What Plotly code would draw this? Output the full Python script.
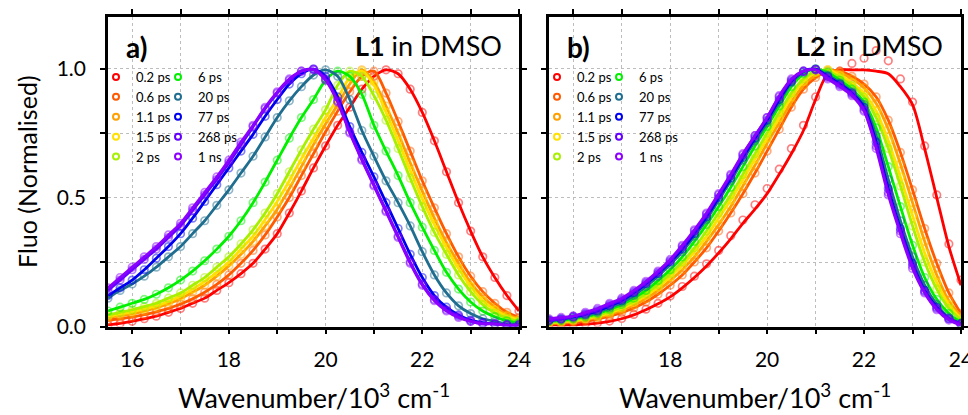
import plotly.graph_objects as go

# ---------------- data ----------------
wavenumber = [15.5, 15.75, 16.0, 16.25, 16.5, 16.75, 17.0, 17.25, 17.5, 17.75,
              18.0, 18.25, 18.5, 18.75, 19.0, 19.25, 19.5, 19.75, 20.0, 20.25,
              20.5, 20.75, 21.0, 21.25, 21.5, 21.75, 22.0, 22.25, 22.5, 22.75,
              23.0, 23.25, 23.5, 23.75, 24.0]

delays = ["0.2 ps", "0.6 ps", "1.1 ps", "1.5 ps", "2 ps",
          "6 ps", "20 ps", "77 ps", "268 ps", "1 ns"]
colors = ["#ff0000", "#ff5a00", "#ffa000", "#ffe000", "#a6f000",
          "#00f000", "#1f6e90", "#0000f0", "#6400ff", "#8c00ff"]

# Panel a) L1 in DMSO
a_02 = [0.006,0.012,0.02,0.03,0.04,0.055,0.07,0.09,0.11,0.14,0.17,0.205,0.245,0.30,0.36,0.44,0.525,0.615,0.70,0.78,0.85,0.92,0.97,0.995,0.98,0.92,0.83,0.72,0.60,0.48,0.37,0.27,0.19,0.12,0.06]
a_06 = [0.025,0.03,0.037,0.046,0.057,0.07,0.087,0.108,0.133,0.163,0.20,0.245,0.295,0.355,0.425,0.50,0.585,0.67,0.755,0.835,0.91,0.97,0.99,0.905,0.795,0.68,0.565,0.46,0.36,0.27,0.195,0.135,0.09,0.055,0.035]
a_11 = [0.035,0.042,0.05,0.06,0.072,0.088,0.108,0.133,0.16,0.195,0.235,0.28,0.33,0.39,0.455,0.535,0.62,0.705,0.785,0.86,0.94,0.995,0.95,0.855,0.75,0.635,0.525,0.42,0.325,0.245,0.17,0.115,0.075,0.045,0.03]
a_15 = [0.04,0.048,0.057,0.068,0.08,0.097,0.118,0.145,0.175,0.21,0.25,0.30,0.35,0.415,0.485,0.565,0.65,0.73,0.81,0.885,0.965,0.99,0.935,0.83,0.72,0.605,0.495,0.395,0.305,0.225,0.155,0.10,0.065,0.04,0.025]
a_2 = [0.045,0.055,0.065,0.077,0.09,0.11,0.13,0.16,0.19,0.23,0.27,0.32,0.375,0.44,0.515,0.60,0.685,0.765,0.84,0.935,0.99,0.97,0.895,0.80,0.69,0.575,0.465,0.365,0.28,0.20,0.135,0.085,0.052,0.032,0.02]
a_6 = [0.06,0.075,0.09,0.105,0.125,0.15,0.18,0.215,0.255,0.30,0.35,0.41,0.48,0.56,0.645,0.73,0.81,0.88,0.955,0.99,0.97,0.90,0.78,0.68,0.585,0.48,0.385,0.295,0.21,0.145,0.095,0.06,0.038,0.022,0.015]
a_20 = [0.11,0.14,0.165,0.195,0.23,0.27,0.31,0.36,0.41,0.47,0.53,0.595,0.66,0.735,0.81,0.875,0.93,0.975,0.995,0.97,0.88,0.76,0.66,0.565,0.48,0.39,0.29,0.20,0.13,0.08,0.05,0.03,0.02,0.01,0.01]
a_77 = [0.12,0.15,0.18,0.22,0.265,0.31,0.36,0.42,0.485,0.55,0.615,0.68,0.745,0.815,0.88,0.94,0.98,0.998,0.97,0.89,0.775,0.675,0.58,0.48,0.38,0.28,0.19,0.12,0.075,0.045,0.025,0.015,0.01,0.005,0.005]
a_268 = [0.14,0.18,0.22,0.26,0.30,0.345,0.39,0.45,0.51,0.57,0.635,0.705,0.775,0.845,0.905,0.955,0.99,0.998,0.96,0.875,0.755,0.65,0.55,0.45,0.35,0.25,0.165,0.105,0.065,0.04,0.02,0.012,0.01,0.005,0.005]
a_1ns = [0.15,0.19,0.23,0.27,0.31,0.355,0.40,0.46,0.52,0.58,0.645,0.715,0.78,0.85,0.91,0.96,0.99,0.995,0.955,0.87,0.75,0.645,0.545,0.445,0.345,0.245,0.16,0.10,0.06,0.035,0.02,0.01,0.01,0.005,0.005]

# Panel b) L2 in DMSO
b_02_fit = [0.005,0.005,0.006,0.009,0.013,0.02,0.03,0.045,0.065,0.088,0.115,0.15,0.19,0.235,0.285,0.34,0.40,0.455,0.515,0.59,0.67,0.76,0.88,0.98,0.995,0.995,0.995,0.99,0.98,0.93,0.86,0.69,0.50,0.31,0.16]
b_02 = [0.005,0.005,0.007,0.01,0.014,0.021,0.031,0.047,0.067,0.09,0.118,0.155,0.195,0.243,0.295,0.352,0.413,0.472,0.535,0.61,0.69,0.78,0.89,0.97,0.99,1.02,1.04,1.07,1.03,0.96,0.87,0.70,0.51,0.32,0.18]
b_06 = [0.01,0.012,0.016,0.021,0.029,0.04,0.054,0.072,0.095,0.125,0.16,0.20,0.25,0.305,0.37,0.44,0.515,0.595,0.68,0.765,0.85,0.92,0.965,0.99,0.99,0.97,0.94,0.89,0.80,0.675,0.53,0.38,0.245,0.13,0.05]
b_11 = [0.012,0.015,0.02,0.026,0.035,0.047,0.063,0.083,0.108,0.14,0.178,0.22,0.27,0.33,0.395,0.465,0.545,0.625,0.71,0.79,0.87,0.935,0.975,0.995,0.985,0.96,0.925,0.865,0.765,0.63,0.48,0.33,0.20,0.10,0.04]
b_15 = [0.015,0.018,0.023,0.03,0.04,0.053,0.07,0.092,0.12,0.153,0.193,0.237,0.29,0.35,0.42,0.49,0.57,0.65,0.73,0.81,0.89,0.95,0.985,0.995,0.975,0.945,0.905,0.835,0.72,0.58,0.43,0.285,0.17,0.085,0.03]
b_2 = [0.017,0.02,0.026,0.033,0.043,0.058,0.076,0.10,0.128,0.163,0.205,0.25,0.305,0.37,0.44,0.51,0.59,0.67,0.75,0.83,0.905,0.96,0.99,0.99,0.965,0.935,0.89,0.81,0.69,0.545,0.39,0.25,0.145,0.07,0.025]
b_6 = [0.02,0.024,0.03,0.038,0.05,0.066,0.085,0.11,0.14,0.178,0.22,0.27,0.33,0.395,0.465,0.54,0.62,0.70,0.775,0.855,0.93,0.98,0.998,0.985,0.955,0.92,0.87,0.77,0.62,0.465,0.315,0.19,0.105,0.05,0.015]
b_20 = [0.022,0.027,0.034,0.043,0.055,0.073,0.093,0.12,0.155,0.195,0.24,0.29,0.35,0.415,0.49,0.565,0.645,0.72,0.79,0.87,0.945,0.985,0.998,0.975,0.945,0.91,0.86,0.74,0.57,0.41,0.27,0.16,0.085,0.035,0.012]
b_77 = [0.025,0.03,0.037,0.047,0.06,0.08,0.10,0.13,0.165,0.205,0.25,0.30,0.36,0.425,0.50,0.575,0.655,0.73,0.80,0.88,0.95,0.99,0.998,0.97,0.94,0.905,0.85,0.715,0.535,0.38,0.245,0.14,0.075,0.03,0.01]
b_268 = [0.025,0.03,0.04,0.05,0.065,0.085,0.105,0.135,0.17,0.21,0.255,0.31,0.37,0.435,0.51,0.585,0.665,0.74,0.81,0.89,0.955,0.99,0.995,0.965,0.935,0.90,0.84,0.70,0.52,0.37,0.235,0.135,0.07,0.03,0.01]
b_1ns = [0.03,0.035,0.04,0.055,0.07,0.09,0.11,0.14,0.175,0.215,0.26,0.315,0.375,0.44,0.515,0.59,0.67,0.74,0.81,0.895,0.96,0.99,0.995,0.96,0.93,0.895,0.835,0.69,0.51,0.36,0.225,0.13,0.065,0.025,0.005]

panel_a_data = [a_02, a_06, a_11, a_15, a_2, a_6, a_20, a_77, a_268, a_1ns]
panel_a_fit = panel_a_data
panel_b_data = [b_02, b_06, b_11, b_15, b_2, b_6, b_20, b_77, b_268, b_1ns]
panel_b_fit = [b_02_fit, b_06, b_11, b_15, b_2, b_6, b_20, b_77, b_268, b_1ns]

x_ticks = [16, 17, 18, 19, 20, 21, 22, 23, 24]
x_ticktext = ["16", "", "18", "", "20", "", "22", "", "24"]
y_ticks = [0, 0.25, 0.5, 0.75, 1.0]
y_ticktext = ["0.0", "", "0.5", "", "1.0"]

FONT = "Lato"
W, H = 968, 415


def rgba(hexcol, a):
    h = hexcol.lstrip("#")
    return "rgba(%d,%d,%d,%.2f)" % (int(h[0:2], 16), int(h[2:4], 16), int(h[4:6], 16), a)


fig = go.Figure()

panels = [("x", "y", panel_a_data, panel_a_fit, ("legend", "legend2")),
          ("x2", "y2", panel_b_data, panel_b_fit, ("legend3", "legend4"))]

for xa, ya, data, fits, legs in panels:
    for i in range(len(delays)):
        fig.add_trace(go.Scatter(
            x=wavenumber, y=data[i], xaxis=xa, yaxis=ya, mode="markers",
            marker=dict(symbol="circle-open", size=7.5,
                        color=rgba(colors[i], 0.5),
                        line=dict(width=1.7, color=rgba(colors[i], 0.5))),
            showlegend=False, hoverinfo="skip"))
        fig.add_trace(go.Scatter(
            x=wavenumber, y=fits[i], xaxis=xa, yaxis=ya, mode="lines",
            line=dict(color=colors[i], width=2.8, shape="spline", smoothing=0.8),
            showlegend=False, hoverinfo="skip"))
    # legend entries
    for i in range(len(delays)):
        fig.add_trace(go.Scatter(
            x=[None], y=[None], xaxis=xa, yaxis=ya, mode="markers",
            name=delays[i], legend=legs[0] if i < 5 else legs[1],
            marker=dict(symbol="circle-open", size=6, color=colors[i],
                        line=dict(width=2, color=colors[i])),
            showlegend=True))

x_dom_a = [108 / W, 519 / W]
x_dom_b = [549 / W, 961 / W]
y_dom = [(H - 326.5) / H, (H - 17) / H]

axis_common = dict(showline=True, linewidth=2.6, linecolor="black", mirror="ticks",
                   ticks="outside", ticklen=5, tickwidth=2, tickcolor="black",
                   showgrid=True, gridcolor="#bdbdbd", griddash="dot", gridwidth=1.3,
                   zeroline=False, tickfont=dict(family=FONT, size=21, color="black"))

fig.update_layout(
    autosize=True, margin=dict(l=0, r=0, t=0, b=0, autoexpand=False),
    paper_bgcolor="white", plot_bgcolor="white",
    font=dict(family=FONT, color="black"),
    xaxis=dict(domain=x_dom_a, range=[15.5, 24.0], tickvals=x_ticks, ticktext=x_ticktext,
               anchor="y", ticklabelstandoff=7, **axis_common),
    yaxis=dict(domain=y_dom, range=[0, 1.2], tickvals=y_ticks, ticktext=y_ticktext,
               anchor="x", ticklabelstandoff=10, **axis_common),
    xaxis2=dict(domain=x_dom_b, range=[15.5, 24.0], tickvals=x_ticks, ticktext=x_ticktext,
                anchor="y2", ticklabelstandoff=7, ticklabeloverflow="allow", **axis_common),
    yaxis2=dict(domain=y_dom, range=[0, 1.2], tickvals=y_ticks, ticktext=y_ticktext,
                anchor="x2", showticklabels=False, **axis_common),
)

leg_common = dict(bgcolor="rgba(0,0,0,0)", borderwidth=0, xanchor="left", yanchor="top",
                  font=dict(family=FONT, size=13, color="black"), tracegroupgap=0,
                  itemclick=False, itemdoubleclick=False)
ly = (H - 62) / H
fig.update_layout(
    legend=dict(x=96 / W, y=ly, **leg_common),
    legend2=dict(x=158 / W, y=ly, **leg_common),
    legend3=dict(x=537 / W, y=ly, **leg_common),
    legend4=dict(x=599 / W, y=ly, **leg_common),
)

ann = []
for xc, txt, xr in [((x_dom_a[0] + x_dom_a[1]) / 2, "<b>L1</b> in DMSO", 504),
                    ((x_dom_b[0] + x_dom_b[1]) / 2, "<b>L2</b> in DMSO", 945)]:
    ann.append(dict(x=xc, y=(H - 396) / H, xref="paper", yref="paper", showarrow=False,
                    text="Wavenumber/10<sup>3</sup> cm<sup>-1</sup>", xanchor="center",
                    yanchor="middle", font=dict(family=FONT, size=27, color="black")))
    ann.append(dict(x=xr / W, y=(H - 46) / H, xref="paper", yref="paper", showarrow=False,
                    text=txt, xanchor="right", yanchor="middle",
                    font=dict(family=FONT, size=27, color="black")))
ann.append(dict(x=124 / W, y=(H - 47) / H, xref="paper", yref="paper", showarrow=False,
                text="<b>a)</b>", xanchor="left", yanchor="middle",
                font=dict(family=FONT, size=28, color="black")))
ann.append(dict(x=565 / W, y=(H - 47) / H, xref="paper", yref="paper", showarrow=False,
                text="<b>b)</b>", xanchor="left", yanchor="middle",
                font=dict(family=FONT, size=28, color="black")))
ann.append(dict(x=27 / W, y=(H - 172) / H, xref="paper", yref="paper", showarrow=False,
                text="Fluo (Normalised)", textangle=-90, xanchor="center", yanchor="middle",
                font=dict(family=FONT, size=25, color="black")))
fig.update_layout(annotations=ann)

fig.write_html("out.html", config={"responsive": True})
